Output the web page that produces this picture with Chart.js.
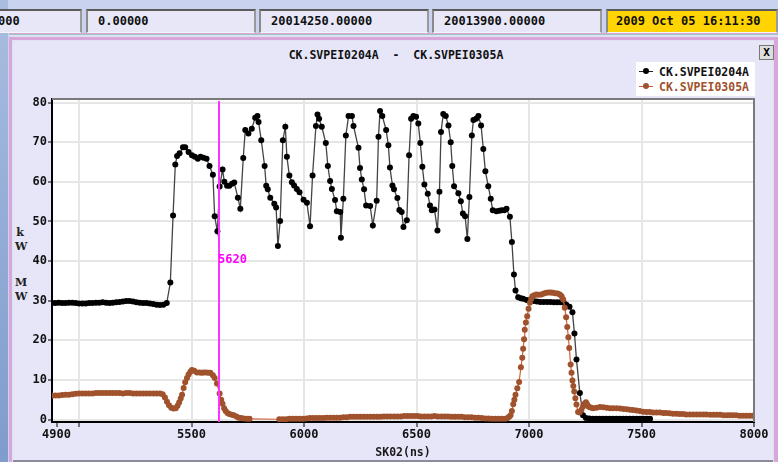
<!DOCTYPE html>
<html>
<head>
<meta charset="utf-8">
<script src="https://cdn.jsdelivr.net/npm/chart.js@4"></script>
<style>
  body { margin: 0; width: 778px; height: 462px; overflow: hidden; background: #c9d3ef; position: relative;
         font-family: "DejaVu Sans Mono", monospace; font-weight: bold; }
  .strip { position: absolute; left: 0; top: 0; width: 8px; height: 462px; background: linear-gradient(#a9bde0, #7e9ccc); }
  .box { position: absolute; top: 9px; background: #e7e7f8; border-top: 2px solid #5a5a5a; border-left: 2px solid #8a8a8a;
         border-right: 2px solid #9a9a9a; border-bottom: 1px solid #f4f4ff; font-size: 12px; line-height: 21px; padding-left: 10px; box-sizing: border-box; height: 24px; color: #101010; }
  .win { position: absolute; left: 9px; top: 33px; width: 769px; height: 429px; background: #e0e0f4;
         border-top: 1px solid #d8a6d8; box-sizing: border-box; }
  .winline { position: absolute; left: 9px; top: 34px; width: 769px; height: 1px; background: #9cc8c0; }
  .winframe { position: absolute; left: 9px; top: 37px; width: 769px; height: 425px; border-top: 3px solid #d8a6d8; border-left: 3px solid #d8a6d8;
              border-right: 4px solid #d8a6d8; box-sizing: border-box; }
  .panel { position: absolute; left: 13px; top: 41px; width: 760px; height: 419px; background: #e6e6f8; border-bottom: 2px solid #8c8c9c; }
  .title { position: absolute; top: 48px; left: 0; width: 778px; padding-left: 14px; box-sizing: border-box; text-align: center; font-size: 11.5px; color: #111; white-space: pre; }
  .close { position: absolute; left: 759px; top: 45px; width: 13px; height: 13px; border: 1px solid #777; background: #ddd; font-size: 11px; line-height: 13px; text-align: center; }
  .legend { position: absolute; left: 636px; top: 62px; width: 119px; height: 34px; background: #fff; font-size: 11.5px; }
  .legend div { position: absolute; left: 3px; height: 14px; line-height: 14px; }
  .legend i { display: inline-block; position: relative; width: 14px; height: 1px; top: -4px; margin-right: 6px; }
  .legend i b { position: absolute; left: 4px; top: -3px; width: 6px; height: 6px; border-radius: 3px; }
  .ylab { position: absolute; left: 15px; font-family: "DejaVu Serif", serif; font-size: 11px; line-height: 14px; color: #222; text-align: center; width: 10px; }
  canvas { position: absolute; left: 0; top: 0; }
</style>
</head>
<body>
<div class="strip"></div>
<div class="box" style="left:-14px;width:96px;">000</div>
<div class="box" style="left:86px;width:170px;">0.00000</div>
<div class="box" style="left:259px;width:170px;">20014250.00000</div>
<div class="box" style="left:432px;width:170px;">20013900.00000</div>
<div class="box" style="left:606px;width:172px;background:#ffd400;padding-left:8px;">2009 Oct 05 16:11:30</div>
<div class="win"></div>
<div class="winline"></div>
<div class="winframe"></div>
<div class="panel"></div>
<div class="title">CK.SVPEI0204A  -  CK.SVPEI0305A</div>
<div class="close">X</div>
<div class="ylab" style="top:226px;">k<br>W</div>
<div class="ylab" style="top:276px;">M<br>W</div>
<canvas id="grafico" width="778" height="462"></canvas>
<div class="legend">
  <div style="top:3px;color:#111;"><i style="background:#222"><b style="background:#000"></b></i>CK.SVPEI0204A</div>
  <div style="top:18px;color:#a0522d;"><i style="background:#c0603a"><b style="background:#a0522d"></b></i>CK.SVPEI0305A</div>
</div>

<script>
const serieNames = ['CK.SVPEI0204A', 'CK.SVPEI0305A'];
const xTicks = [4900, 5000, 5500, 6000, 6500, 7000, 7500, 8000];
const cursorX = 5620;

const blackX = [4880,4895,4910,4925,4940,4955,4970,4985,5000,5015,5030,5045,5060,5075,5090,5105,5120,5135,5150,5165,5180,5195,5210,5225,5240,5255,5270,5285,5300,5315,5330,5345,5360,5375,5390,
  5406,5418,5428,5436,5447,5462,5472,5487,5502,5515,5528,5540,5553,5567,5580,5595,5603,5615,5625,5638,5646,5658,5668,5680,5690,5706,5717,5730,5739,5753,5768,5783,5793,5798,
  5810,5825,5832,5839,5850,5868,5876,5884,5894,5906,5917,5924,5935,5946,5956,5968,5980,5998,6013,6027,6038,6053,6060,6067,6079,6097,6106,6116,6124,6138,6146,6161,6164,6175,
  6186,6198,6213,6220,6242,6249,6257,6267,6276,6294,6306,6323,6331,6338,6348,6365,6375,6382,6393,6400,6415,6424,6434,6442,6457,6467,6476,6486,6498,6508,6517,6526,6535,6550,
  6560,6568,6580,6593,6602,6609,6619,6630,6642,6652,6659,6667,6686,6697,6706,6716,6726,6735,6746,6753,6765,6775,6787,6797,6806,6819,6830,6839,6855,6868,6878,6890,6900,6915,
  6924,6933,6940,6952,6964,6974,6990,7005,7020,7035,7050,7065,7080,7095,7110,7125,7140,7155,7166,7180,7193,7202,7211,7226,7240,7253,7268,
  7283,7298,7313,7328,7343,7358,7373,7388,7403,7418,7433,7448,7463,7478,7493,7508,7523,7538];
const blackY = [29.4,29.4,29.5,29.4,29.4,29.5,29.5,29.4,29.3,29.3,29.3,29.4,29.4,29.5,29.5,29.6,29.5,29.4,29.5,29.6,29.7,29.8,29.9,29.9,29.8,29.6,29.5,29.4,29.4,29.3,29.2,29.0,28.9,29.0,29.4,
  34.6,51.5,64.4,66.5,67.2,68.7,68.7,67.5,66.7,66.3,65.8,66.3,66.1,65.8,64.0,61.8,51.3,47.5,58.8,63.1,60.0,59.0,59.0,59.5,59.8,56.0,53.2,66.0,73.1,72.2,73.4,76.2,76.6,75.1,
  70.5,64.0,59.0,58.1,56.0,54.5,53.5,43.8,50.1,70.5,73.9,66.3,61.6,59.9,59.1,58.2,57.4,55.5,54.7,48.8,61.6,74.1,77.0,75.9,73.9,69.8,64.0,60.2,58.2,55.4,52.6,52.4,45.9,55.7,
  71.7,76.6,76.6,74.1,68.6,63.5,60.6,58.1,54.0,53.9,49.0,55.2,71.4,77.9,76.6,73.1,69.2,63.6,59.1,58.1,55.9,52.9,52.4,48.6,50.3,66.7,75.9,76.6,76.4,74.7,69.8,63.8,59.3,57.0,
  54.0,52.8,53.0,47.7,57.5,72.6,77.1,76.6,74.2,70.0,64.0,58.9,57.1,55.1,52.0,51.3,45.6,56.2,71.7,75.6,75.9,76.6,74.2,68.3,62.7,58.9,55.7,52.8,52.6,52.7,52.8,52.8,53.2,51.2,
  44.8,36.6,32.6,30.9,30.6,30.5,30.2,30.1,29.9,29.8,29.7,29.7,29.7,29.7,29.6,29.6,29.6,29.5,29.0,28.5,27.1,21.7,15.2,6.7,1.1,0.4,0.3,
  0.2,0.2,0.2,0.2,0.2,0.2,0.2,0.2,0.2,0.2,0.2,0.2,0.2,0.2,0.2,0.2,0.2,0.2];

const brownX = [4880,4895,4910,4925,4940,4955,4970,4985,5000,5015,5030,5045,5060,5075,5090,5105,5120,5135,5150,5165,5180,5195,5210,5225,5240,5255,5270,5285,5300,5315,5330,5345,5360,
  5372,5382,5391,5400,5410,5420,5430,5438,5445,5452,5458,5465,5472,5480,5487,5495,5502,5512,5524,5535,5545,5554,5565,5575,5584,5595,5603,5613,5625,5632,5638,5645,5652,5660,
  5668,5678,5688,5700,5710,5720,5732,5746,5758,
  5890,5905,5920,5935,5950,5965,5980,5995,6010,6025,6040,6055,6070,6085,6100,6115,6130,6145,6160,6175,6190,6205,6220,6235,6250,6265,6280,6295,6310,6325,6340,6355,6370,6385,
  6400,6415,6430,6445,6460,6475,6490,6505,6520,6535,6550,6565,6580,6595,6610,6625,6640,6655,6670,6685,6700,6715,6730,6745,6760,6775,6790,6805,6820,6835,6850,6865,6880,6895,
  6905,6912,6918,6924,6930,6935,6940,6948,6956,6964,6970,6974,6978,6981,6986,6992,6998,7004,7010,7015,7023,7033,7044,7055,7066,7077,7088,7098,7106,7116,7127,7137,7145,7152,
  7159,7165,7170,7175,7179,7185,7189,7193,7197,7201,7206,7211,7218,7225,7233,7240,7247,7253,7258,7263,7270,7278,7285,7300,7315,7330,7345,7360,7374,7390,7405,7420,7435,7448,
  7462,7477,7492,7507,7522,7537,7552,7567,7582,7597,7610,7625,7640,7655,7670,7685,7699,7715,7730,7745,7760,7775,7788,7805,7820,7835,7850,7865,7880,7892,7905,7920,7935,7950,
  7965,7980,7995];
const brownY = [6.0,6.1,6.1,6.2,6.3,6.3,6.4,6.5,6.6,6.6,6.6,6.6,6.6,6.7,6.7,6.7,6.7,6.7,6.7,6.7,6.7,6.6,6.7,6.7,6.6,6.6,6.6,6.6,6.6,6.6,6.6,6.6,6.6,
  6.4,5.6,4.5,3.6,3.0,2.8,2.9,3.5,4.3,5.3,6.3,8.0,9.4,10.5,11.4,12.1,12.5,12.3,11.9,11.9,11.8,11.9,11.9,11.8,11.8,11.2,10.5,9.1,6.6,5.0,4.0,2.9,2.2,1.7,
  1.4,1.2,1.1,0.8,0.5,0.4,0.3,0.2,0.2,
  0.1,0.1,0.1,0.2,0.2,0.2,0.2,0.2,0.3,0.4,0.4,0.4,0.4,0.4,0.5,0.5,0.5,0.5,0.5,0.6,0.6,0.7,0.7,0.7,0.7,0.7,0.7,0.7,0.7,0.7,0.7,0.8,0.8,0.8,
  0.8,0.8,0.8,0.9,0.9,0.9,0.9,0.9,0.8,0.8,0.8,0.8,0.9,0.8,0.8,0.8,0.8,0.7,0.7,0.7,0.7,0.6,0.6,0.6,0.5,0.5,0.4,0.3,0.3,0.2,0.2,0.2,0.2,0.2,
  0.4,0.7,1.1,2.2,3.9,5.0,6.3,7.9,9.5,13.2,15.6,17.9,20.3,22.7,24.5,26.1,28.0,29.5,30.5,31.1,31.4,31.6,31.5,31.6,31.8,32.0,32.1,32.1,32.0,31.9,31.8,31.6,31.1,30.3,
  28.2,25.8,23.4,20.8,18.1,13.9,11.8,9.9,8.5,7.1,5.4,3.8,1.9,1.8,2.5,3.3,4.0,4.4,3.9,3.4,3.1,3.0,2.9,3.0,3.2,3.1,3.0,2.9,2.9,2.9,2.8,2.7,2.6,2.5,
  2.4,2.3,2.2,2.0,1.9,1.9,1.8,1.8,1.8,1.7,1.7,1.6,1.5,1.5,1.4,1.4,1.3,1.3,1.3,1.3,1.3,1.3,1.3,1.2,1.2,1.2,1.2,1.1,1.1,1.1,1.1,1.1,1.0,1.0,
  1.0,1.0,1.0];

const tickFont = { family: 'DejaVu Sans Mono', size: 12, weight: 'bold' };

// white plot area + grey frame + cursor line
const plotBox = {
  id: 'plotBox',
  beforeDraw(chart) {
    const { ctx, chartArea: a } = chart;
    ctx.save();
    ctx.fillStyle = '#ffffff';
    ctx.fillRect(a.left, a.top, a.right - a.left, a.bottom - a.top);
    ctx.restore();
  },
  afterDatasetsDraw(chart) {
    const { ctx, chartArea: a, scales } = chart;
    ctx.save();
    ctx.strokeStyle = '#7a7a7a';
    ctx.lineWidth = 2;
    ctx.beginPath();
    ctx.moveTo(a.left, a.top);
    ctx.lineTo(a.right, a.top);
    ctx.lineTo(a.right, a.bottom);
    ctx.stroke();
    const px = Math.round(scales.x.getPixelForValue(cursorX));
    ctx.fillStyle = '#ff33ff';
    ctx.fillRect(px - 1, a.top + 2, 2, a.bottom - a.top - 2);
    ctx.fillStyle = '#ff00ff';
    ctx.font = 'bold 12px "DejaVu Sans Mono"';
    ctx.textBaseline = 'middle';
    ctx.fillText(String(cursorX), px - 1, scales.y.getPixelForValue(40.2));
    ctx.restore();
  }
};

new Chart(document.getElementById('grafico'), {
  type: 'line',
  data: {
    datasets: [{
      label: serieNames[0],
      data: blackX.map((x, i) => ({ x: x, y: blackY[i] })),
      borderColor: '#444444',
      borderWidth: 1.3,
      pointBackgroundColor: '#000',
      pointBorderColor: '#000',
      pointRadius: 3,
      pointBorderWidth: 0,
      tension: 0,
      order: 1
    }, {
      label: serieNames[1],
      data: brownX.map((x, i) => ({ x: x, y: brownY[i] })),
      borderColor: '#d0623c',
      borderWidth: 1.2,
      pointBackgroundColor: '#a0522d',
      pointBorderColor: '#a0522d',
      pointRadius: 3,
      pointBorderWidth: 0,
      tension: 0,
      order: 0
    }]
  },
  options: {
    responsive: false,
    animation: false,
    devicePixelRatio: 1,
    layout: { padding: { left: 0, right: 24, top: 99, bottom: 2 } },
    plugins: { legend: { display: false }, title: { display: false }, tooltip: { enabled: false } },
    scales: {
      x: {
        type: 'linear',
        min: 4880,
        max: 8000,
        afterBuildTicks: s => { s.ticks = xTicks.map(v => ({ value: v })); },
        afterFit: s => { s.height = 38; },
        ticks: { font: tickFont, color: '#111', padding: 1, maxRotation: 0,
                 callback: v => (v === 5000 ? '' : v) },
        grid: { color: c => (c.tick && c.tick.value === 4900 ? 'rgba(0,0,0,0)' : '#e6e6e6'), lineWidth: 2,
                tickColor: '#000', tickLength: 5, tickWidth: 1 },
        border: { color: '#000', width: 2 },
        title: { display: true, text: 'SK02(ns)', font: { family: 'DejaVu Sans Mono', size: 11.5, weight: 'bold' },
                 color: '#1a1a1a', padding: { top: 0, bottom: 0 } }
      },
      y: {
        min: -0.6,
        max: 80.9,
        afterFit: s => { s.width = 52; },
        ticks: { stepSize: 10, includeBounds: false, font: tickFont, color: '#111', padding: 1 },
        grid: { color: '#e6e6e6', lineWidth: 2, tickColor: '#000', tickLength: 4, tickWidth: 1 },
        border: { color: '#000', width: 2 }
      }
    }
  },
  plugins: [plotBox]
});
</script>
</body>
</html>
